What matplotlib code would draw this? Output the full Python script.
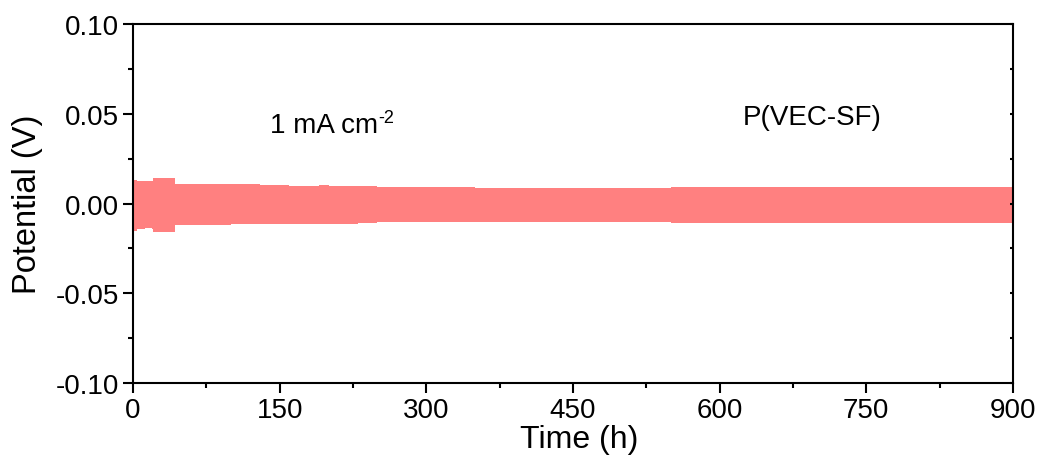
import numpy as np
import matplotlib
matplotlib.use("Agg")
from matplotlib import pyplot as plt
from matplotlib.ticker import MultipleLocator

plt.rcParams['font.family'] = ['Liberation Sans', 'DejaVu Sans']

# envelope of the cycling voltage profile (h, V)
time_h = [0, 4, 12, 19, 20, 42, 43, 60, 80, 100, 130, 160, 190, 200, 230,
          250, 280, 300, 350, 400, 450, 500, 550, 600, 650, 700, 750, 800, 850, 900]
v_upper = [0.0130, 0.0128, 0.0128, 0.0128, 0.0142, 0.0142, 0.0108, 0.0110, 0.0108,
           0.0106, 0.0104, 0.0100, 0.0102, 0.0096, 0.0098, 0.0092, 0.0090, 0.0090,
           0.0088, 0.0089, 0.0088, 0.0088, 0.0090, 0.0090, 0.0090, 0.0090, 0.0091,
           0.0091, 0.0090, 0.0090]
v_lower = [-0.0155, -0.0140, -0.0138, -0.0140, -0.0158, -0.0158, -0.0120, -0.0118,
           -0.0118, -0.0116, -0.0115, -0.0112, -0.0116, -0.0112, -0.0108, -0.0105,
           -0.0103, -0.0102, -0.0103, -0.0104, -0.0104, -0.0105, -0.0106, -0.0107,
           -0.0107, -0.0107, -0.0108, -0.0108, -0.0108, -0.0108]

x_ticks = [0, 150, 300, 450, 600, 750, 900]
y_ticks = [-0.10, -0.05, 0.00, 0.05, 0.10]

fig = plt.figure(figsize=(10.43, 4.64), dpi=100)
ax = fig.add_axes([0.1275, 0.1724, 0.8437, 0.7737])

ax.fill_between(time_h, v_lower, v_upper, step='post', color='#ff8080', lw=0)

ax.set_xlim(0, 900)
ax.set_ylim(-0.10, 0.10)
ax.set_xticks(x_ticks)
ax.set_yticks(y_ticks)
ax.set_yticklabels(['%.2f' % v for v in y_ticks])
ax.xaxis.set_minor_locator(MultipleLocator(75))
ax.yaxis.set_minor_locator(MultipleLocator(0.025))

ax.tick_params(which='major', direction='out', length=7, width=1.5, labelsize=20, pad=3)
ax.tick_params(which='minor', direction='out', length=3.5, width=1.5)
ax.tick_params(axis='y', which='both', right=True)
for sp in ax.spines.values():
    sp.set_linewidth(1.5)

# right spine ticks point inward, short
for t in ax.yaxis.get_major_ticks() + ax.yaxis.get_minor_ticks():
    t.tick2line.set_markersize(2)
    t.tick2line.set_marker(matplotlib.lines.TICKLEFT)

ax.set_xlabel('Time (h)', fontsize=23, labelpad=-4)
ax.xaxis.set_label_coords(0.5075, -0.115)
ax.set_ylabel('Potential (V)', fontsize=23.5, labelpad=9)

t1 = ax.text(140, 0.040, '1 mA cm', fontsize=20)
ax.annotate('-2', xy=(1.0, 1.0), xycoords=t1, va='top', ha='left', fontsize=13,
            xytext=(0, 2), textcoords='offset points')
ax.text(695, 0.0445, 'P(VEC-SF)', fontsize=20, ha='center')

fig.savefig('out.png', dpi=100)
